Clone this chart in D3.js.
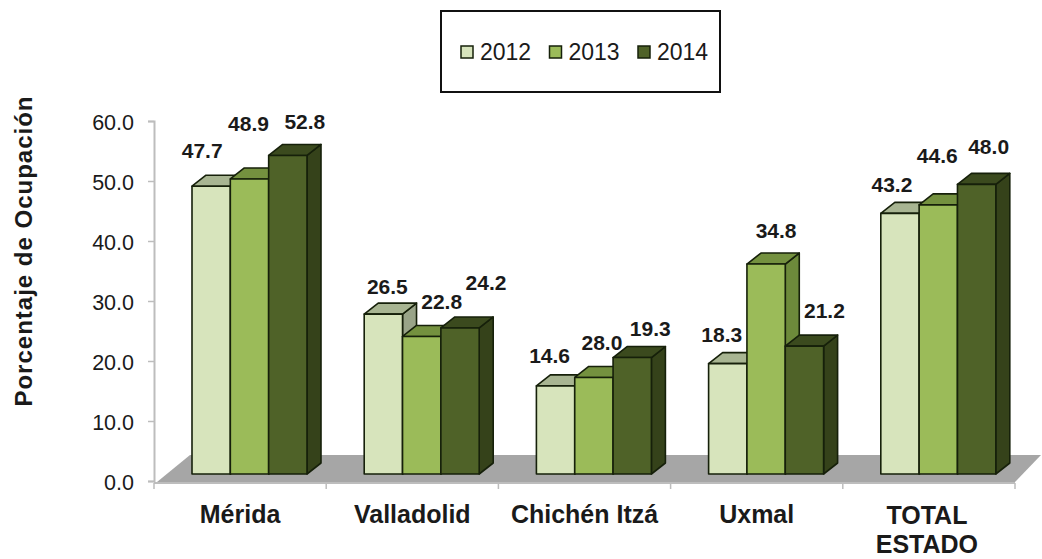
<!DOCTYPE html>
<html lang="es">
<head>
    <meta charset="UTF-8">
    <title>Porcentaje de Ocupación</title>
    <script src="https://d3js.org/d3.v7.min.js"></script>
    <style>
        html, body { margin: 0; padding: 0; background: #fff; }
        svg { display: block; font-family: "Liberation Sans", Arial, sans-serif; }
    </style>
</head>
<body>
    <div id="chart"></div>

    <script>
        // data
        const categories = ["Mérida", "Valladolid", "Chichén Itzá", "Uxmal", "TOTAL ESTADO"];
        const years = ["2012", "2013", "2014"];
        const values2012 = [47.7, 26.5, 14.6, 18.3, 43.2];
        const values2013 = [48.9, 22.8, 16.0, 34.8, 44.6]; // Chichén bar is drawn about 16 tall
        const values2014 = [52.8, 24.2, 19.3, 21.2, 48.0];
        const printed2013 = ["48.9", "22.8", "28.0", "34.8", "44.6"]; // but its label says 28.0
        const yTicks = [0, 10, 20, 30, 40, 50, 60];

        const width = 1042;
        const height = 559;

        // [dx, dy] of every value label from the top centre of its bar
        const labelShift = [
            [[-9, -36], [-1, -55], [17, -34]],
            [[4, -27], [20, -35], [26, -45]],
            [[-6, -30], [8, -35], [18, -29]],
            [[-6, -29], [10, -33], [20, -35]],
            [[-8, -29], [-1, -49], [12, -38]]
        ];

        const palette = [
            { front: "#d7e4bc", top: "#a8b592", side: "#99a488" },
            { front: "#9bbb59", top: "#74913f", side: "#6d8a3b" },
            { front: "#4f6228", top: "#3b4a1e", side: "#35421a" }
        ];

        const depthX = 14;
        const depthY = 11;

        const svg = d3.select("#chart")
            .append("svg")
            .attr("width", width)
            .attr("height", height);

        const x = d3.scaleBand()
            .domain(categories)
            .range([154, 1015])
            .paddingInner(0)
            .paddingOuter(0);

        const barX = d3.scaleBand()
            .domain(years)
            .range([38, 153]);

        const y = d3.scaleLinear().domain([0, 60]).range([481, 121]);
        // front face of the bars sits in front of the axis plane
        const yBar = d3.scaleLinear().domain([0, 60]).range([474, 112]);

        // floor
        const floorLeft = x.range()[0] + 3;
        const floorRight = x.range()[1];
        svg.append("polygon")
            .attr("points", [
                [floorLeft, y(0) + 1],
                [floorLeft + 33, y(0) - 26],
                [floorRight + 26, y(0) - 26],
                [floorRight, y(0) + 1]
            ].join(" "))
            .attr("fill", "#a6a6a6");

        // axes
        const yAxis = d3.axisLeft(y)
            .tickValues(yTicks)
            .tickSize(6)
            .tickPadding(14)
            .tickFormat(d3.format(".1f"));

        const gy = svg.append("g")
            .attr("transform", `translate(${x.range()[0]},0)`)
            .call(yAxis);
        gy.select(".domain").attr("stroke", "#bdbdbd").attr("stroke-width", 2);
        gy.selectAll(".tick line").attr("stroke", "#bdbdbd").attr("stroke-width", 1.5);
        gy.selectAll("text")
            .attr("font-family", "Liberation Sans")
            .attr("font-size", 21.5)
            .attr("dy", "0.38em")
            .attr("fill", "#1a1a1a");

        const xEdges = categories.map(d => x(d)).concat(x.range()[1]);
        const gx = svg.append("g");
        gx.append("line")
            .attr("x1", x.range()[0]).attr("x2", x.range()[1])
            .attr("y1", y(0) + 2).attr("y2", y(0) + 2)
            .attr("stroke", "#bdbdbd").attr("stroke-width", 2);
        gx.selectAll("line.tick")
            .data(xEdges)
            .join("line")
            .attr("class", "tick")
            .attr("x1", d => d).attr("x2", d => d)
            .attr("y1", y(0) + 2).attr("y2", y(0) + 8)
            .attr("stroke", "#bdbdbd").attr("stroke-width", 1.5);

        // category labels, TOTAL ESTADO wraps on two lines
        gx.selectAll("text.cat")
            .data(categories)
            .join("text")
            .attr("class", "cat")
            .attr("text-anchor", "middle")
            .attr("font-size", 25)
            .attr("font-weight", "bold")
            .attr("fill", "#1a1a1a")
            .each(function (d) {
                const cx = x(d) + x.bandwidth() / 2;
                d.split(" ").length > 1 && d === d.toUpperCase()
                    ? d.split(" ").forEach((word, i) => {
                        d3.select(this).append("tspan")
                            .attr("x", cx - 2)
                            .attr("y", 524 + i * 29)
                            .text(word);
                    })
                    : d3.select(this).append("tspan")
                        .attr("x", cx)
                        .attr("y", 523)
                        .text(d);
            });

        svg.append("text")
            .attr("transform", "translate(32,251) rotate(-90)")
            .attr("text-anchor", "middle")
            .attr("font-size", 24)
            .attr("font-weight", "bold")
            .attr("letter-spacing", 1)
            .attr("fill", "#1a1a1a")
            .text("Porcentaje de Ocupación");

        // 3d bars
        const rows = [values2012, values2013, values2014];
        const bars = [];
        categories.forEach((cat, c) => {
            years.forEach((year, s) => {
                const value = rows[s][c];
                bars.push({
                    c, s, value,
                    label: s === 1 ? printed2013[c] : value.toFixed(1),
                    x0: x(cat) + barX(year),
                    x1: x(cat) + barX(year) + barX.bandwidth(),
                    y0: yBar(value),
                    y1: yBar(0)
                });
            });
        });

        const bar = svg.append("g").selectAll("g")
            .data(bars)
            .join("g")
            .attr("stroke", "#16200a")
            .attr("stroke-width", 1.6)
            .attr("stroke-linejoin", "round");

        bar.append("polygon")
            .attr("fill", d => palette[d.s].side)
            .attr("points", d => [
                [d.x1, d.y0],
                [d.x1 + depthX, d.y0 - depthY],
                [d.x1 + depthX, d.y1 - depthY],
                [d.x1, d.y1]
            ].join(" "));

        bar.append("polygon")
            .attr("fill", d => palette[d.s].top)
            .attr("points", d => [
                [d.x0, d.y0],
                [d.x0 + depthX, d.y0 - depthY],
                [d.x1 + depthX, d.y0 - depthY],
                [d.x1, d.y0]
            ].join(" "));

        bar.append("rect")
            .attr("x", d => d.x0)
            .attr("y", d => d.y0)
            .attr("width", d => d.x1 - d.x0)
            .attr("height", d => d.y1 - d.y0)
            .attr("fill", d => palette[d.s].front);

        // value labels go last so no bar covers them
        svg.append("g").selectAll("text")
            .data(bars)
            .join("text")
            .attr("x", d => (d.x0 + d.x1) / 2 + labelShift[d.c][d.s][0])
            .attr("y", d => d.y0 + labelShift[d.c][d.s][1])
            .attr("dy", "0.35em")
            .attr("text-anchor", "middle")
            .attr("font-size", 21)
            .attr("font-weight", "bold")
            .attr("fill", "#1a1a1a")
            .text(d => d.label);

        // legend
        const legend = svg.append("g");
        legend.append("rect")
            .attr("x", 441).attr("y", 11)
            .attr("width", 279).attr("height", 81)
            .attr("fill", "#fff")
            .attr("stroke", "#111")
            .attr("stroke-width", 2);

        const legendX = d3.scalePoint().domain(years).range([461, 638]);
        const item = legend.selectAll("g")
            .data(years)
            .join("g")
            .attr("transform", d => `translate(${legendX(d)},46)`);
        item.append("rect")
            .attr("width", 12).attr("height", 12)
            .attr("fill", (d, i) => palette[i].front)
            .attr("stroke", "#16200a")
            .attr("stroke-width", 1.5);
        item.append("text")
            .attr("x", 19).attr("y", 14)
            .attr("font-size", 23)
            .attr("fill", "#1a1a1a")
            .text(d => d);
    </script>
</body>
</html>
